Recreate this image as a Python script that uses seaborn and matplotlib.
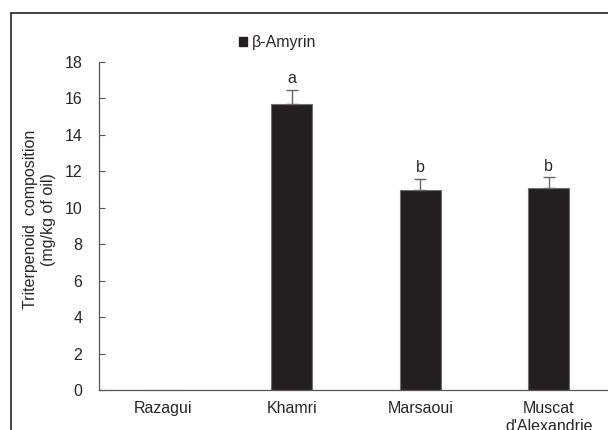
import numpy as np
import pandas as pd
import seaborn as sns
import matplotlib
matplotlib.use('Agg')
import matplotlib.pyplot as plt
from matplotlib.patches import Rectangle, Patch

# data
cultivars = ['Razagui', 'Khamri', 'Marsaoui', "Muscat\nd'Alexandrie"]
amyrin = [0.0, 15.7, 11.0, 11.1]
amyrin_err = [0.0, 0.78, 0.58, 0.58]
letters = ['', 'a', 'b', 'b']
yticks = list(range(0, 20, 2))

sns.set_style('white')
plt.rcParams['font.family'] = ['Liberation Sans', 'DejaVu Sans']
FS = 11.5

fig = plt.figure(figsize=(6.08, 4.30), dpi=100)
ax = fig.add_axes([99 / 608, 40 / 430, 514 / 608, 328 / 430])

df = pd.DataFrame({'cultivar': cultivars, 'value': amyrin})
sns.barplot(data=df, x='cultivar', y='value', order=cultivars, color='#231f20',
            saturation=1, width=0.32, errorbar=None, edgecolor='#707070',
            linewidth=0.8, ax=ax)

# upper-only error bars and significance letters
for i, (v, e, l) in enumerate(zip(amyrin, amyrin_err, letters)):
    if v <= 0:
        continue
    ax.errorbar(i, v, yerr=[[0], [e]], fmt='none', ecolor='#666666',
                elinewidth=1, capsize=4, capthick=1)
    ax.text(i, v + e + 0.2, l, ha='center', va='bottom', fontsize=FS)

ax.set_xlim(-0.5, 3.5)
ax.set_ylim(0, 18)
ax.set_yticks(yticks)
ax.tick_params(axis='y', direction='in', length=4, width=0.8, color='#555555',
               pad=12, labelsize=FS, left=True)
ax.tick_params(axis='x', length=0, pad=8, labelsize=FS)
for s in ['top', 'right']:
    ax.spines[s].set_visible(False)
for s in ['left', 'bottom']:
    ax.spines[s].set_color('#555555')
    ax.spines[s].set_linewidth(0.9)
ax.set_xlabel('')
ax.set_ylabel('Triterpenoid  composition\n(mg/kg of oil)', fontsize=FS,
              linespacing=1.25)
ax.yaxis.set_label_coords(-0.084, 0.52)

ax.legend(handles=[Patch(facecolor='#231f20', edgecolor='#231f20', label='β-Amyrin')],
          loc='center', bbox_to_anchor=(278 / 608, 1 - 43 / 430),
          bbox_transform=fig.transFigure, frameon=False, fontsize=FS,
          handlelength=0.5, handleheight=0.5, handletextpad=0.3)

# outer frame of the original figure (cropped on the right and bottom)
fig.patches.append(Rectangle((11 / 608, -0.1), 1.2, 1.1 - 13 / 430,
                             transform=fig.transFigure, fill=False,
                             edgecolor='#222222', linewidth=1.2))

fig.savefig('out.png', dpi=100)
